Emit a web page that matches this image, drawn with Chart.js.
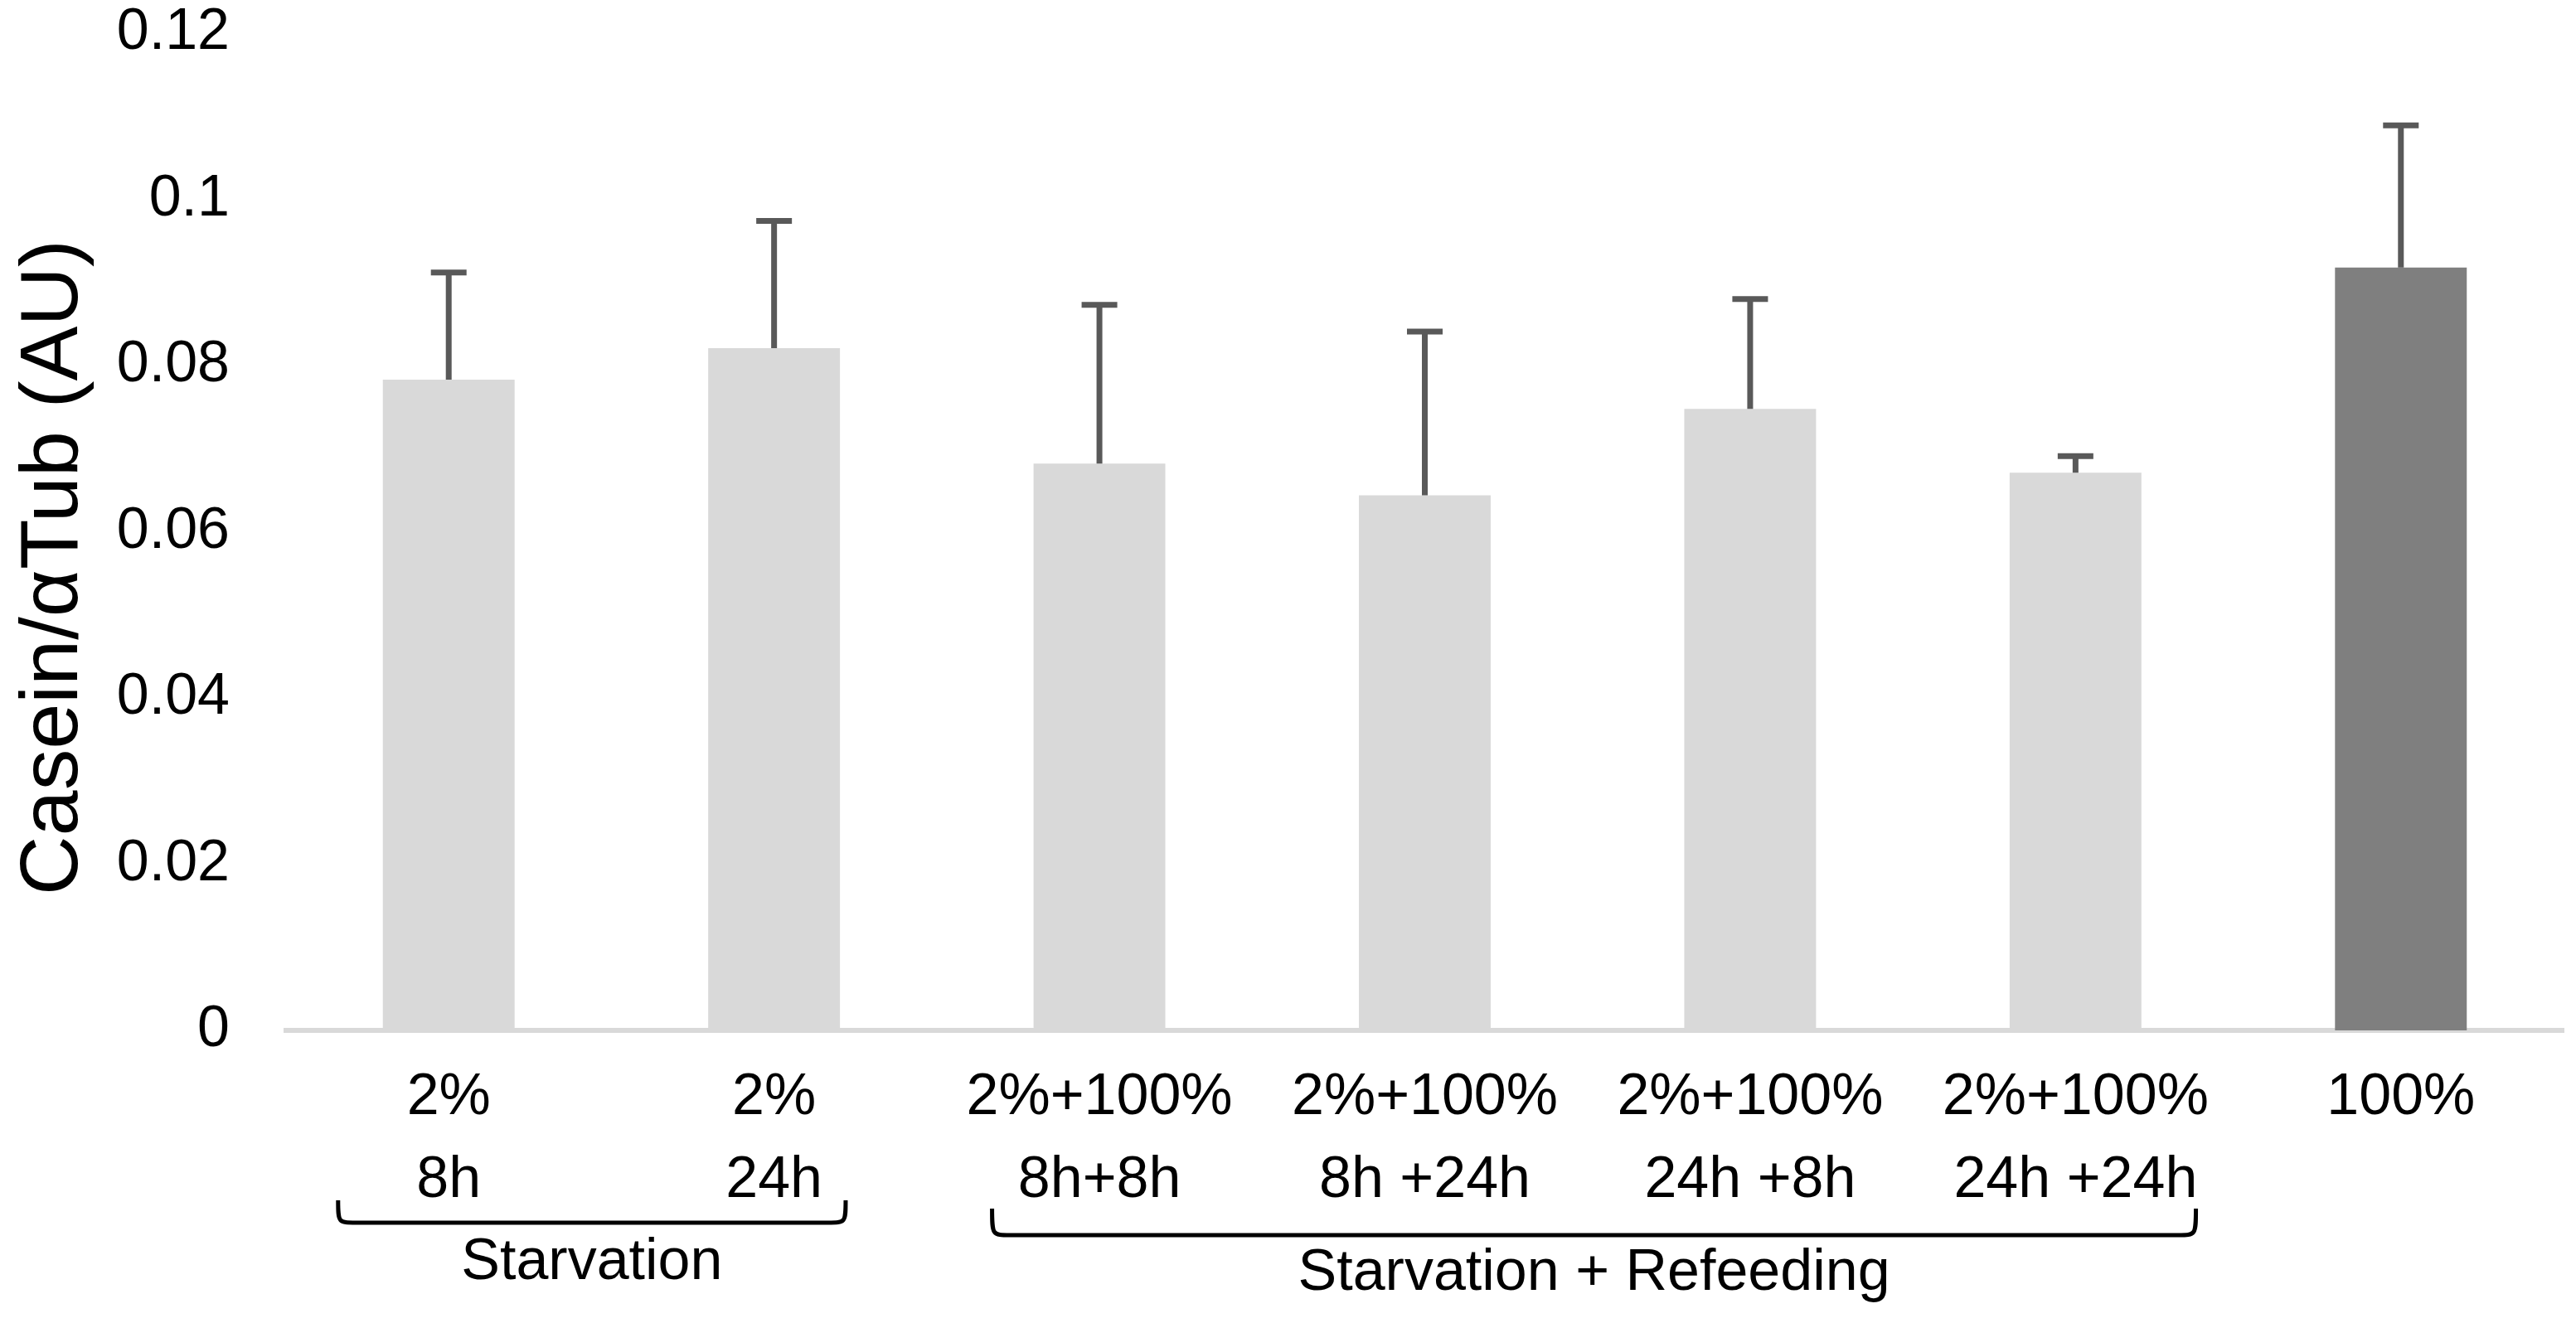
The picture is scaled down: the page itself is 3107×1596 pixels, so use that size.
<!DOCTYPE html>
<html>
<head>
<meta charset="utf-8">
<script src="https://cdn.jsdelivr.net/npm/chart.js@4.4.1/dist/chart.umd.min.js"></script>
<style>
  html, body { margin: 0; padding: 0; background: #fff; }
  #wrap { width: 3107px; height: 1596px; }
</style>
</head>
<body>
<div id="wrap"><canvas id="chart" width="3107" height="1596"></canvas></div>
<script>
// Casein / alpha-tubulin per feeding condition
const categories = [
  ['2%', '8h'],
  ['2%', '24h'],
  ['2%+100%', '8h+8h'],
  ['2%+100%', '8h +24h'],
  ['2%+100%', '24h +8h'],
  ['2%+100%', '24h +24h'],
  ['100%']
];
const means = [0.0783, 0.0821, 0.0682, 0.0644, 0.0748, 0.0671, 0.0918];
const errors = [0.0129, 0.0153, 0.0191, 0.0197, 0.0132, 0.0020, 0.0171];
const yTicks = [0, 0.02, 0.04, 0.06, 0.08, 0.1, 0.12];
const yTitle = 'Casein/αTub (AU)';

// brackets under the axis: first and last category of each group
const groupNames = ['Starvation', 'Starvation + Refeeding'];
const groupFirst = [0, 2];
const groupLast = [1, 5];

const FONT = '"Liberation Sans", Arial, sans-serif';
const barColors = ['#d9d9d9', '#d9d9d9', '#d9d9d9', '#d9d9d9', '#d9d9d9', '#d9d9d9', '#7f7f7f'];

// bracket placement, in category units / px below the axis
const braceLayout = [
  { padLeft: 0.34, padRight: 0.22, top: 205, base: 232, text: 281 },
  { padLeft: 0.33, padRight: 0.37, top: 215, base: 247, text: 294 }
];

// error bars (upper only)
const errorBars = {
  id: 'errorBars',
  afterDatasetsDraw(chart) {
    const { ctx, scales: { y } } = chart;
    const meta = chart.getDatasetMeta(0);
    ctx.save();
    ctx.strokeStyle = '#595959';
    ctx.lineWidth = 7;
    meta.data.forEach((bar, i) => {
      const top = y.getPixelForValue(means[i] + errors[i]);
      ctx.beginPath();
      ctx.moveTo(bar.x, bar.y);
      ctx.lineTo(bar.x, top);
      ctx.moveTo(bar.x - 21.5, top);
      ctx.lineTo(bar.x + 21.5, top);
      ctx.stroke();
    });
    ctx.restore();
  }
};

// group brackets + y title
const annotations = {
  id: 'annotations',
  afterDraw(chart) {
    const { ctx, scales: { x, y } } = chart;
    ctx.save();
    ctx.strokeStyle = '#000';
    ctx.fillStyle = '#000';
    ctx.lineWidth = 5;
    ctx.font = '70px ' + FONT;
    ctx.textAlign = 'center';
    ctx.textBaseline = 'middle';
    groupNames.forEach((name, g) => {
      const L = braceLayout[g];
      const x1 = x.getPixelForValue(groupFirst[g] - L.padLeft);
      const x2 = x.getPixelForValue(groupLast[g] + L.padRight);
      const yTop = x.top + L.top;
      const yBase = x.top + L.base;
      ctx.beginPath();
      ctx.moveTo(x1, yTop);
      ctx.bezierCurveTo(x1, yBase, x1, yBase, x1 + 22, yBase);
      ctx.lineTo(x2 - 22, yBase);
      ctx.bezierCurveTo(x2, yBase, x2, yBase, x2, yTop);
      ctx.stroke();
      ctx.fillText(name, (x1 + x2) / 2, x.top + L.text);
    });

    // y axis title
    ctx.font = '99px ' + FONT;
    ctx.translate(66, (y.top + y.bottom) / 2 + 43);
    ctx.rotate(-Math.PI / 2);
    ctx.fillText(yTitle, 0, 0);
    ctx.restore();
  }
};

new Chart(document.getElementById('chart'), {
  type: 'bar',
  data: {
    labels: categories,
    datasets: [{
      data: means,
      backgroundColor: barColors,
      barPercentage: 0.405,
      categoryPercentage: 1
    }]
  },
  options: {
    responsive: false,
    animation: false,
    devicePixelRatio: 1,
    layout: { padding: { top: 0, right: 15, bottom: 0, left: 0 } },
    plugins: {
      legend: { display: false },
      tooltip: { enabled: false }
    },
    scales: {
      x: {
        z: 1,
        grid: { display: false, drawTicks: false },
        border: { display: true, color: '#d9d9d9', width: 6 },
        ticks: {
          color: '#000',
          font: { family: FONT, size: 70, lineHeight: 1.43 },
          padding: 32,
          maxRotation: 0,
          autoSkip: false
        },
        afterFit: (s) => { s.height = 353; }
      },
      y: {
        min: 0,
        max: 0.12,
        afterBuildTicks: (s) => { s.ticks = yTicks.map(v => ({ value: v })); },
        grid: { display: false, drawTicks: false },
        border: { display: false },
        ticks: {
          color: '#000',
          font: { family: FONT, size: 70, lineHeight: 1 },
          padding: 68,
          callback: (v) => String(+v.toFixed(2))
        },
        afterFit: (s) => {
          s.width = 345;
          s.paddingTop = 40;
          s.paddingBottom = 0;
        }
      }
    }
  },
  plugins: [errorBars, annotations]
});
</script>
</body>
</html>
